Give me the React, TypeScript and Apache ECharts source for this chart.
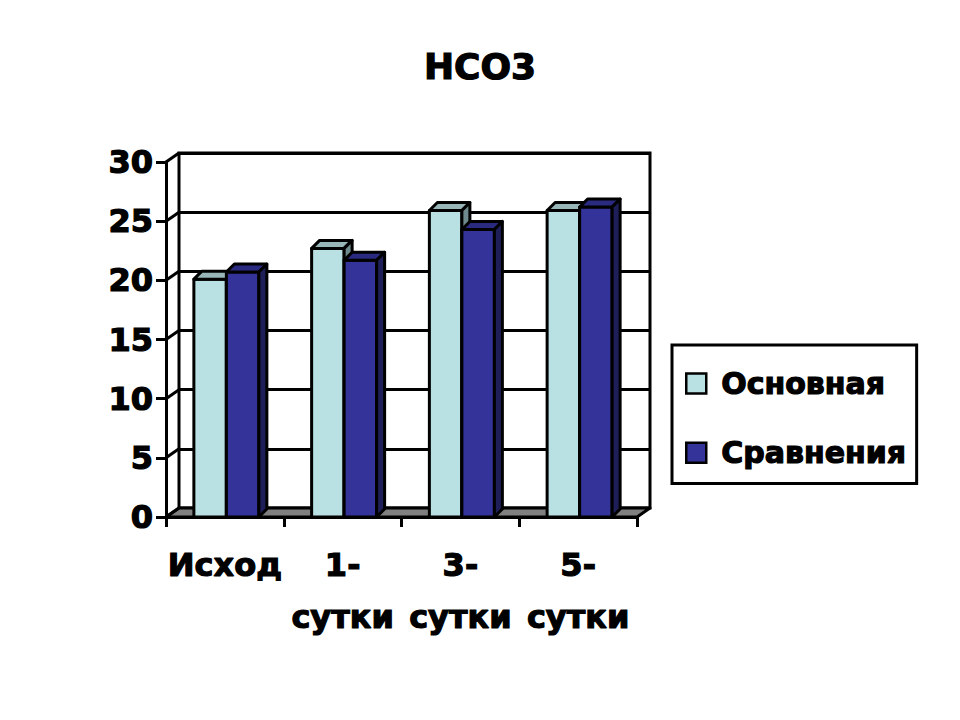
import React, { useEffect, useRef } from "react";
import * as echarts from "echarts";

const titleText = "HCO3";
const categories = ["Исход", "1-\nсутки", "3-\nсутки", "5-\nсутки"];
const seriesNames = ["Основная", "Сравнения"];
const osnovnaya = [20.1, 22.7, 25.9, 25.9];
const sravneniya = [20.7, 21.7, 24.3, 26.2];
const yMin = 0;
const yMax = 30;
const yStep = 5;
const yTicks = [0, 5, 10, 15, 20, 25, 30];

const FONT = "DejaVu Sans";
const DEPTH_X = 13;
const DEPTH_Y = -9;
const BAR_DX = 8;
const BAR_DY = -8;

const faces = [
  { front: "#B9E0E3", top: "#98B6B8", side: "#6F8A8C" },
  { front: "#333399", top: "#2A2A80", side: "#1E1E58" },
];

function barRenderer(seriesIdx: number) {
  return (params: any, api: any) => {
    const cat = api.value(0);
    const val = api.value(1);
    const p = api.coord([cat, val]);
    const base = api.coord([cat, 0]);
    const band = api.size([1, 0])[0];
    const w = band * 0.276;
    const x0 = seriesIdx === 0 ? p[0] + 1.5 - w : p[0] + 1.5;
    const y1 = p[1];
    const y0 = base[1];
    const f = faces[seriesIdx];
    const stroke = { stroke: "#000", lineWidth: 3, lineJoin: "round" };
    return {
      type: "group",
      children: [
        {
          type: "rect",
          shape: { x: x0, y: y1, width: w, height: y0 - y1 },
          style: { fill: f.front, ...stroke },
        },
        {
          type: "polygon",
          shape: {
            points: [
              [x0, y1],
              [x0 + BAR_DX, y1 + BAR_DY],
              [x0 + w + BAR_DX, y1 + BAR_DY],
              [x0 + w, y1],
            ],
          },
          style: { fill: f.top, ...stroke },
        },
        {
          type: "polygon",
          shape: {
            points: [
              [x0 + w, y1],
              [x0 + w + BAR_DX, y1 + BAR_DY],
              [x0 + w + BAR_DX, y0 + BAR_DY],
              [x0 + w, y0],
            ],
          },
          style: { fill: f.side, ...stroke },
        },
      ],
    };
  };
}

function frameRenderer(params: any, api: any) {
  const cs = params.coordSys;
  const v = api.value(1);
  const y = api.coord([0, v])[1];
  const children: any[] = [];
  if (v === 0) {
    children.push({
      type: "polygon",
      shape: {
        points: [
          [cs.x, y],
          [cs.x + DEPTH_X, y + DEPTH_Y],
          [cs.x + cs.width + DEPTH_X, y + DEPTH_Y],
          [cs.x + cs.width, y],
        ],
      },
      style: { fill: "#808080", stroke: "#000", lineWidth: 3, lineJoin: "round" },
    });
  }
  children.push({
    type: "line",
    shape: { x1: cs.x, y1: y, x2: cs.x + DEPTH_X, y2: y + DEPTH_Y },
    style: { stroke: "#000", lineWidth: 3 },
  });
  return { type: "group", children };
}

export default function App() {
  const ref = useRef<HTMLDivElement>(null);
  useEffect(() => {
    if (!ref.current) return;
    const chart = echarts.init(ref.current, null, { renderer: "svg" });
    const heavy = { textBorderColor: "#000", textBorderWidth: 1.2 };
    const axisText = { fontFamily: FONT, fontWeight: "bold", fontSize: 32, color: "#000", ...heavy };
    chart.setOption({
      animation: false,
      backgroundColor: "#fff",
      title: {
        text: titleText,
        left: "center",
        top: 43,
        textStyle: { fontFamily: FONT, fontWeight: "bold", fontSize: 36, color: "#000", ...heavy },
      },
      legend: {
        orient: "vertical",
        left: 672,
        top: 345,
        padding: [23, 10, 15, 13],
        itemGap: 38,
        itemWidth: 20,
        itemHeight: 20,
        borderColor: "#000",
        borderWidth: 3,
        backgroundColor: "#fff",
        textStyle: {
          fontFamily: FONT,
          fontWeight: "bold",
          fontSize: 30,
          lineHeight: 30,
          color: "#000",
          padding: [0, 0, 0, 10],
          ...heavy,
        },
        data: [
          { name: seriesNames[0], icon: "rect", itemStyle: { color: faces[0].front, borderColor: "#000", borderWidth: 2.5 } },
          { name: seriesNames[1], icon: "rect", itemStyle: { color: faces[1].front, borderColor: "#000", borderWidth: 2.5 } },
        ],
      },
      grid: [
        { left: 166, right: 323, top: 162, bottom: 203, containLabel: false },
        {
          left: 166 + DEPTH_X,
          right: 323 - DEPTH_X,
          top: 162 + DEPTH_Y,
          bottom: 203 - DEPTH_Y,
          show: true,
          borderColor: "#000",
          borderWidth: 3,
          backgroundColor: "#fff",
        },
      ],
      xAxis: [
        {
          type: "category",
          gridIndex: 0,
          data: categories,
          boundaryGap: true,
          axisLine: { show: true, lineStyle: { color: "#000", width: 3 } },
          axisTick: { show: true, length: 10, lineStyle: { color: "#000", width: 3 } },
          axisLabel: { ...axisText, interval: 0, lineHeight: 52, margin: 22 },
          splitLine: { show: false },
        },
        { type: "value", gridIndex: 1, show: false, min: 0, max: 1 },
      ],
      yAxis: [
        {
          type: "value",
          gridIndex: 0,
          min: yMin,
          max: yMax,
          interval: yStep,
          axisLine: { show: true, lineStyle: { color: "#000", width: 3 } },
          axisTick: { show: true, length: 10, lineStyle: { color: "#000", width: 3 } },
          axisLabel: { ...axisText, margin: 13 },
          splitLine: { show: false },
        },
        {
          type: "value",
          gridIndex: 1,
          min: yMin,
          max: yMax,
          interval: yStep,
          axisLine: { show: false },
          axisTick: { show: false },
          axisLabel: { show: false },
          splitLine: { show: true, lineStyle: { color: "#000", width: 3 } },
        },
      ],
      series: [
        {
          type: "custom",
          name: "frame",
          xAxisIndex: 0,
          yAxisIndex: 0,
          renderItem: frameRenderer,
          data: yTicks.map((v) => [0, v]),
          silent: true,
          encode: { x: 0, y: 1 },
        },
        {
          type: "custom",
          name: seriesNames[0],
          xAxisIndex: 0,
          yAxisIndex: 0,
          itemStyle: { color: faces[0].front, borderColor: "#000", borderWidth: 2.5 },
          renderItem: barRenderer(0),
          data: osnovnaya.map((v, i) => [i, v]),
          encode: { x: 0, y: 1 },
        },
        {
          type: "custom",
          name: seriesNames[1],
          xAxisIndex: 0,
          yAxisIndex: 0,
          itemStyle: { color: faces[1].front, borderColor: "#000", borderWidth: 2.5 },
          renderItem: barRenderer(1),
          data: sravneniya.map((v, i) => [i, v]),
          encode: { x: 0, y: 1 },
        },
      ],
    });
    return () => chart.dispose();
  }, []);
  return (
    <div
      ref={ref}
      style={{ position: "absolute", left: 0, top: 0, width: 960, height: 720 }}
    />
  );
}
